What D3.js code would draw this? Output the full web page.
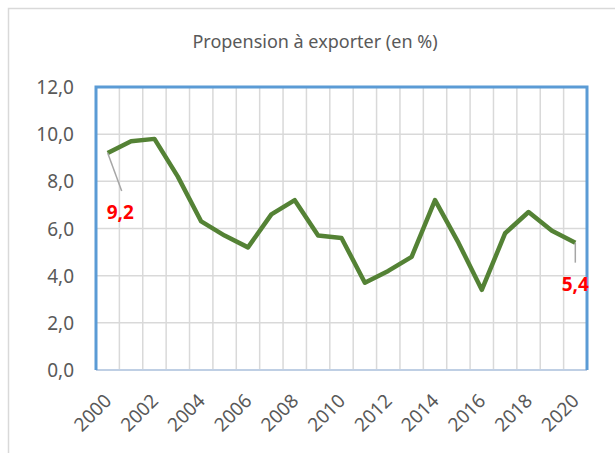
<!DOCTYPE html>
<html>
<head>
<meta charset="utf-8">
<script src="https://cdn.jsdelivr.net/npm/d3@7"></script>
<style>
  body { margin: 0; background: #fff; }
  text { font-family: "Noto Sans", "Open Sans", sans-serif; }
</style>
</head>
<body>
<div id="chart"></div>
<script>
const width = 615;
const height = 453;

const years = d3.range(2000, 2021);
const values = [9.2, 9.7, 9.8, 8.2, 6.3, 5.7, 5.2, 6.6, 7.2, 5.7, 5.6,
                3.7, 4.2, 4.8, 7.2, 5.4, 3.4, 5.8, 6.7, 5.9, 5.4];
const yTicks = [0, 2, 4, 6, 8, 10, 12];
const xLabels = years.filter((d, i) => i % 2 === 0);
const title = 'Propension à exporter (en %)';

const data = years.map((y, i) => ({ year: y, value: values[i] }));

const plot = { left: 96, right: 587, top: 87, bottom: 370 };

const fmt = v => d3.format('.1f')(v).replace('.', ',');

const svg = d3.select('#chart').append('svg')
    .attr('width', width)
    .attr('height', height);

// cadre du graphique
svg.append('rect')
    .attr('x', 8.5).attr('y', 8.5)
    .attr('width', 700).attr('height', 600)
    .attr('fill', 'none')
    .attr('stroke', '#d9d9d9')
    .attr('stroke-width', 1.5);

const x = d3.scaleBand()
    .domain(years)
    .range([plot.left, plot.right]);

const y = d3.scaleLinear()
    .domain([0, 12])
    .range([plot.bottom, plot.top]);

// grille horizontale
svg.append('g')
    .selectAll('line')
    .data(yTicks)
    .join('line')
    .attr('x1', plot.left).attr('x2', plot.right)
    .attr('y1', d => y(d)).attr('y2', d => y(d))
    .attr('stroke', '#d9d9d9')
    .attr('stroke-width', 1.5);

// grille verticale (limites des catégories)
svg.append('g')
    .selectAll('line')
    .data(years.slice(1))
    .join('line')
    .attr('x1', d => x(d)).attr('x2', d => x(d))
    .attr('y1', plot.top).attr('y2', plot.bottom)
    .attr('stroke', '#d9d9d9')
    .attr('stroke-width', 1.5);

// axe x
svg.append('line')
    .attr('x1', plot.left).attr('x2', plot.right)
    .attr('y1', plot.bottom).attr('y2', plot.bottom)
    .attr('stroke', '#bfcfe4')
    .attr('stroke-width', 2);

// bordure de la zone de traçage
svg.append('path')
    .attr('d', `M${plot.left},${plot.bottom}V${plot.top}H${plot.right}V${plot.bottom}`)
    .attr('fill', 'none')
    .attr('stroke', '#5b9bd5')
    .attr('stroke-width', 3);

// étiquettes y
svg.append('g')
    .selectAll('text')
    .data(yTicks)
    .join('text')
    .attr('x', 74)
    .attr('y', d => y(d) + 7)
    .attr('text-anchor', 'end')
    .attr('font-size', 19)
    .attr('fill', '#595959')
    .text(d => fmt(d));

// étiquettes x
svg.append('g')
    .selectAll('text')
    .data(xLabels)
    .join('text')
    .attr('text-anchor', 'end')
    .attr('font-size', 19)
    .attr('fill', '#595959')
    .attr('transform', d => `translate(${x(d) + x.bandwidth() / 2 + 5},${plot.bottom + 32}) rotate(-45)`)
    .text(d => d);

// titre
svg.append('text')
    .attr('x', 315)
    .attr('y', 48)
    .attr('text-anchor', 'middle')
    .attr('font-size', 18)
    .attr('fill', '#595959')
    .text(title);

// courbe
const line = d3.line()
    .x(d => x(d.year) + x.bandwidth() / 2)
    .y(d => y(d.value));

svg.append('path')
    .datum(data)
    .attr('d', line)
    .attr('fill', 'none')
    .attr('stroke', '#548235')
    .attr('stroke-width', 4.5)
    .attr('stroke-linejoin', 'round');

// étiquettes de données (première et dernière)
const first = data[0];
const last = data[data.length - 1];
const cx = d => x(d.year) + x.bandwidth() / 2;

svg.append('line')
    .attr('x1', cx(first)).attr('y1', y(first.value))
    .attr('x2', cx(first) + 14).attr('y2', y(first.value) + 38)
    .attr('stroke', '#a6a6a6').attr('stroke-width', 1.5);

svg.append('text')
    .attr('x', cx(first) - 1)
    .attr('y', y(first.value) + 66)
    .attr('font-size', 19)
    .attr('font-weight', 'bold')
    .attr('fill', '#ff0000')
    .text(fmt(first.value));

svg.append('line')
    .attr('x1', cx(last)).attr('y1', y(last.value))
    .attr('x2', cx(last)).attr('y2', y(last.value) + 20)
    .attr('stroke', '#a6a6a6').attr('stroke-width', 1.5);

svg.append('text')
    .attr('x', cx(last))
    .attr('y', y(last.value) + 48)
    .attr('text-anchor', 'middle')
    .attr('font-size', 19)
    .attr('font-weight', 'bold')
    .attr('fill', '#ff0000')
    .text(fmt(last.value));
</script>
</body>
</html>
